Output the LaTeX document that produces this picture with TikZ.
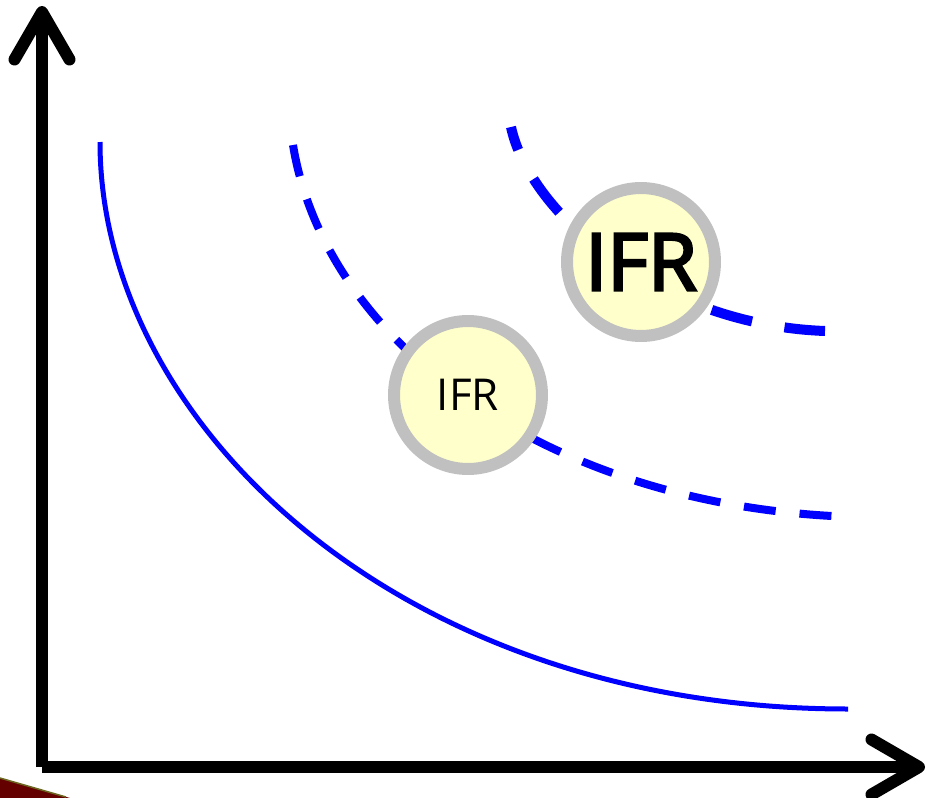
\documentclass[tikz,border=0pt]{standalone}
\usepackage{fontspec}
\newfontfamily\ifrfont{Open Sans}
\newfontfamily\ifrheavy[FakeBold=3.5]{Open Sans}
\usetikzlibrary{arrows.meta}
\definecolor{ifrfill}{HTML}{FFFFCC}
\definecolor{ifrring}{HTML}{C0C0C0}
\definecolor{sliver}{RGB}{100,0,0}

\begin{document}
\begin{tikzpicture}[
  x=0.02cm, y=-0.02cm,
  axis/.style={line width=0.24cm,black,-{Straight Barb[round,length=0.95cm,width=1.1cm]}},
  curve/.style={blue,line width=0.1cm},
  lowcurve/.style={blue,line width=0.16cm,dash pattern=on 0.64cm off 0.48cm},
  highcurve/.style={blue,line width=0.2cm,dash pattern=on 0.84cm off 0.66cm,dash phase=0.36cm},
  ifr/.style={circle,draw=ifrring,fill=ifrfill,line width=0.24cm,inner sep=0pt,
              minimum size=2.96cm,text=black}
]
  \useasboundingbox (0,0) rectangle (927,798);

  \fill[sliver] (0,778) -- (70,798) -- (0,798) -- cycle;
  \draw[olive!70!black,line width=0.03cm] (0,778) -- (66,797);

  \coordinate (origin) at (42,767);
  \coordinate (ytop) at (42,6);
  \coordinate (xend) at (925,767);
  \coordinate (lowc) at (468,395);
  \coordinate (highc) at (641,262);

  \draw[axis] (origin) -- (ytop);
  \draw[axis] (origin) -- (xend);

  \draw[curve] (100,142) .. controls (100,422) and (398,709) .. (848,709);
  \draw[lowcurve] (293,145) .. controls (325,340) and (540,500) .. (832,516);
  \draw[highcurve] (511,127) .. controls (530,215) and (660,325) .. (825,331);

  \node[ifr,font=\ifrfont\fontsize{25}{30}\selectfont] (ifrlow) at (lowc) {IFR};
  \node[ifr,font=\ifrheavy\fontsize{45}{54}\selectfont] (ifrhigh) at (highc) {IFR};
\end{tikzpicture}
\end{document}
